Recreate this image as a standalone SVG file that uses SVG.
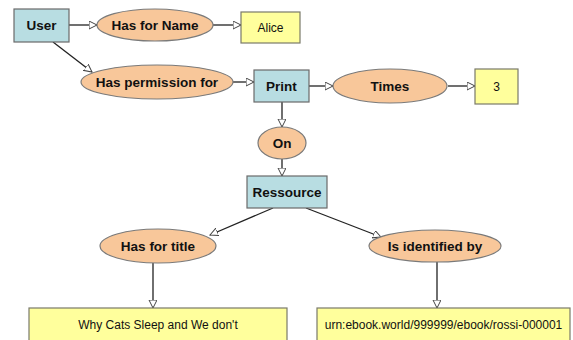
<svg xmlns="http://www.w3.org/2000/svg" width="573" height="340" viewBox="0 0 573 340">
<defs>
<style>
.cls{fill:#b8dde2;stroke:#6a6a6a;stroke-width:1.2}
.rel{fill:#f8c79a;stroke:#7a7a7a;stroke-width:1.2}
.val{fill:#ffff9c;stroke:#7a7a6a;stroke-width:1.2}
.b{font-family:"Liberation Sans",Arial,sans-serif;font-weight:bold;font-size:13.5px;fill:#111;text-anchor:middle;dominant-baseline:central}
.n{font-family:"Liberation Sans",Arial,sans-serif;font-size:12px;fill:#111;text-anchor:middle;dominant-baseline:central}
.e{stroke:#222;stroke-width:1.3;fill:none;marker-end:url(#arr)}
</style>
<marker id="arr" markerWidth="10" markerHeight="10" refX="8" refY="4" orient="auto" markerUnits="userSpaceOnUse">
<path d="M0,0 L8,4 L0,8 Z" fill="#fff" stroke="#444" stroke-width="1"/>
</marker>
</defs>
<rect width="573" height="340" fill="#fff"/>
<g id="connectors">
<line class="e" x1="69" y1="25" x2="97" y2="25"/>
<line class="e" x1="213" y1="25" x2="241" y2="25"/>
<line class="e" x1="53" y1="42" x2="92" y2="72"/>
<line class="e" x1="233" y1="82" x2="254" y2="82"/>
<line class="e" x1="309" y1="86" x2="333" y2="86"/>
<line class="e" x1="448" y1="86" x2="475" y2="86"/>
<line class="e" x1="282" y1="101" x2="282" y2="127"/>
<line class="e" x1="282" y1="159" x2="282" y2="176"/>
<line class="e" x1="273" y1="208" x2="210" y2="235"/>
<line class="e" x1="306" y1="208" x2="381" y2="237"/>
<line class="e" x1="153" y1="263" x2="153" y2="308"/>
<line class="e" x1="437" y1="262" x2="437" y2="308"/>
</g>
<g id="user"><rect class="cls" x="14" y="9" width="55" height="33"/><text class="b" x="41.5" y="25.5">User</text></g>
<g id="has-for-name"><ellipse class="rel" cx="155" cy="25" rx="58" ry="16"/><text class="b" x="155" y="25.5">Has for Name</text></g>
<g id="alice"><rect class="val" x="241" y="12" width="59" height="31"/><text class="n" x="270.5" y="28">Alice</text></g>
<g id="has-permission-for"><ellipse class="rel" cx="157" cy="82" rx="76" ry="17"/><text class="b" x="157" y="82.5">Has permission for</text></g>
<g id="print"><rect class="cls" x="254" y="70" width="55" height="32"/><text class="b" x="281.5" y="86">Print</text></g>
<g id="times"><ellipse class="rel" cx="390" cy="86" rx="57" ry="17"/><text class="b" x="390" y="86.5">Times</text></g>
<g id="three"><rect class="val" x="475" y="69" width="43" height="35"/><text class="n" x="496.5" y="87">3</text></g>
<g id="on"><ellipse class="rel" cx="282" cy="143" rx="24" ry="16"/><text class="b" x="282" y="143.5">On</text></g>
<g id="ressource"><rect class="cls" x="247" y="176" width="80" height="32"/><text class="b" x="287" y="192.5">Ressource</text></g>
<g id="has-for-title"><ellipse class="rel" cx="158" cy="246" rx="58" ry="17"/><text class="b" x="158" y="246.5">Has for title</text></g>
<g id="is-identified-by"><ellipse class="rel" cx="435" cy="246" rx="66" ry="16"/><text class="b" x="435" y="246.5">Is identified by</text></g>
<g id="title-value"><rect class="val" x="29" y="308" width="258" height="34"/><text class="n" x="158" y="325">Why Cats Sleep and We don't</text></g>
<g id="urn-value"><rect class="val" x="317" y="308" width="253" height="34"/><text class="n" x="443.5" y="325">urn:ebook.world/999999/ebook/rossi-000001</text></g>
</svg>
